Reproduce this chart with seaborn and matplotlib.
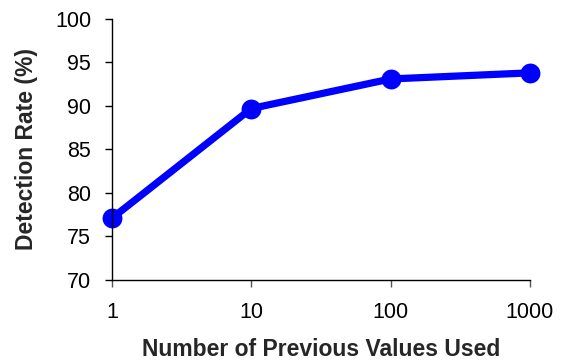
import numpy as np
import pandas as pd
import seaborn as sns
import matplotlib.pyplot as plt

# values
prev_values = [1, 10, 100, 1000]
detection_rate = [77.1, 89.7, 93.1, 93.8]
x_tick_labels = ['1', '10', '100', '1000']
y_ticks = [70, 75, 80, 85, 90, 95, 100]

df = pd.DataFrame({'prev': prev_values, 'rate': detection_rate})

sns.set_style("ticks")
plt.rcParams['font.family'] = ['Liberation Sans', 'DejaVu Sans']

fig = plt.figure(figsize=(5.63, 3.64), dpi=100)
ax = fig.add_axes([0.199, 0.231, 0.742, 0.717])

sns.lineplot(x='prev', y='rate', data=df, ax=ax, color='#0000ff', linewidth=5.2,
             marker='o', markersize=14.3, markeredgewidth=0, clip_on=False)

ax.set_xscale('log')
ax.set_xlim(1, 1000)
ax.set_ylim(70, 100)
ax.set_xticks(prev_values)
ax.set_xticklabels(x_tick_labels)
ax.minorticks_off()
ax.set_yticks(y_ticks)

ax.tick_params(axis='both', labelsize=15.5, colors='black', width=1, length=5)
ax.tick_params(axis='x', pad=11, color='#555555')
ax.tick_params(axis='y', pad=10)

ax.set_xlabel('Number of Previous Values Used', fontsize=16.5, fontweight='bold', labelpad=11)
ax.set_ylabel('Detection Rate (%)', fontsize=16.5, fontweight='bold', labelpad=12)

sns.despine(ax=ax)
for sp in ['left', 'bottom']:
    ax.spines[sp].set_color('black')
    ax.spines[sp].set_linewidth(1)

plt.savefig('out.png', dpi=100)
plt.close()
